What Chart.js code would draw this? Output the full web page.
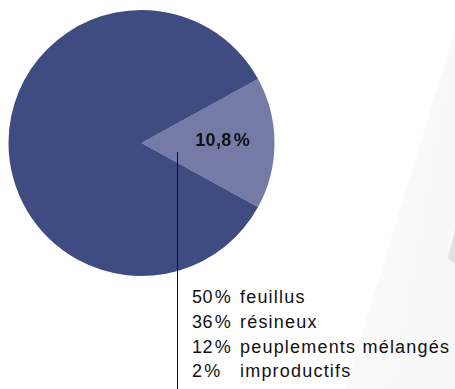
<!DOCTYPE html>
<html lang="fr">
<head>
<meta charset="utf-8">
<script src="https://cdn.jsdelivr.net/npm/chart.js@4"></script>
<style>
  html, body { margin: 0; padding: 0; background: #fff; }
  body { width: 455px; height: 389px; position: relative; overflow: hidden;
         font-family: "Liberation Sans", Arial, sans-serif; color: #111; }
  .bg-shape { position: absolute; left: 0; top: 0; width: 455px; height: 389px;
              clip-path: polygon(455px 30px, 455px 389px, 345px 389px);
              background: linear-gradient(100deg, #ffffff 0%, #f8f8f8 100%); }
  .bg-tip { position: absolute; left: 0; top: 0; width: 455px; height: 389px;
            clip-path: polygon(455px 230px, 455px 264px, 448px 258px);
            background: #e2e2e2; }
  #wrap { position: absolute; left: 8px; top: 10px; width: 267px; height: 266px; }
  #slice-label { position: absolute; font-weight: bold; font-size: 18px; color: #111;
                 transform: translate(-50%, -50%); white-space: nowrap; letter-spacing: 0.4px; }
  #leader { position: absolute; left: 177px; top: 152px; width: 1px; height: 237px; background: #111; }
  #legend { position: absolute; left: 192px; top: 285px; font-size: 18px; line-height: 24.8px; }
  #legend div { white-space: nowrap; letter-spacing: 1.2px; }
  #legend .pct { display: inline-block; width: 48px; letter-spacing: 0.4px; }
</style>
</head>
<body>
<div class="bg-shape"></div>
<div class="bg-tip"></div>
<div id="wrap"><canvas id="pie"></canvas></div>
<div id="slice-label"></div>
<div id="leader"></div>
<div id="legend"></div>

<script>
// slice shares as drawn (angle), and the printed label
const sliceNames = ["forêt", "autres"];
const sliceShares = [16, 84];
const sliceLabel = "10,8\u200a%";

// composition listed under the leader line
const legendPct = ["50", "36", "12", "2"];
const legendNames = ["feuillus", "résineux", "peuplements mélangés", "improductifs"];

const colors = ["#767AA7", "#3F4C82"];

const legend = document.getElementById("legend");
legendPct.forEach((p, i) => {
  const row = document.createElement("div");
  row.innerHTML = '<span class="pct">' + p + '\u200a%</span>' + legendNames[i];
  legend.appendChild(row);
});

const labelEl = document.getElementById("slice-label");
labelEl.textContent = sliceLabel;

/* place the label inside the small slice */
const labelPlugin = {
  id: "sliceLabel",
  afterDraw(chart) {
    const arc = chart.getDatasetMeta(0).data[0];
    const mid = (arc.startAngle + arc.endAngle) / 2;
    const r = arc.outerRadius * 0.61;
    const wrap = document.getElementById("wrap");
    labelEl.style.left = (wrap.offsetLeft + arc.x + Math.cos(mid) * r) + "px";
    labelEl.style.top = (wrap.offsetTop + arc.y + Math.sin(mid) * r - 3) + "px";
  }
};

new Chart(document.getElementById("pie"), {
  type: "pie",
  data: {
    labels: sliceNames,
    datasets: [{
      data: sliceShares,
      backgroundColor: colors,
      borderWidth: 0,
      hoverOffset: 0
    }]
  },
  options: {
    responsive: true,
    maintainAspectRatio: false,
    animation: false,
    rotation: 90 - sliceShares[0] * 3.6 / 2,
    layout: { padding: 0 },
    plugins: {
      legend: { display: false },
      tooltip: { enabled: false }
    }
  },
  plugins: [labelPlugin]
});
</script>
</body>
</html>
